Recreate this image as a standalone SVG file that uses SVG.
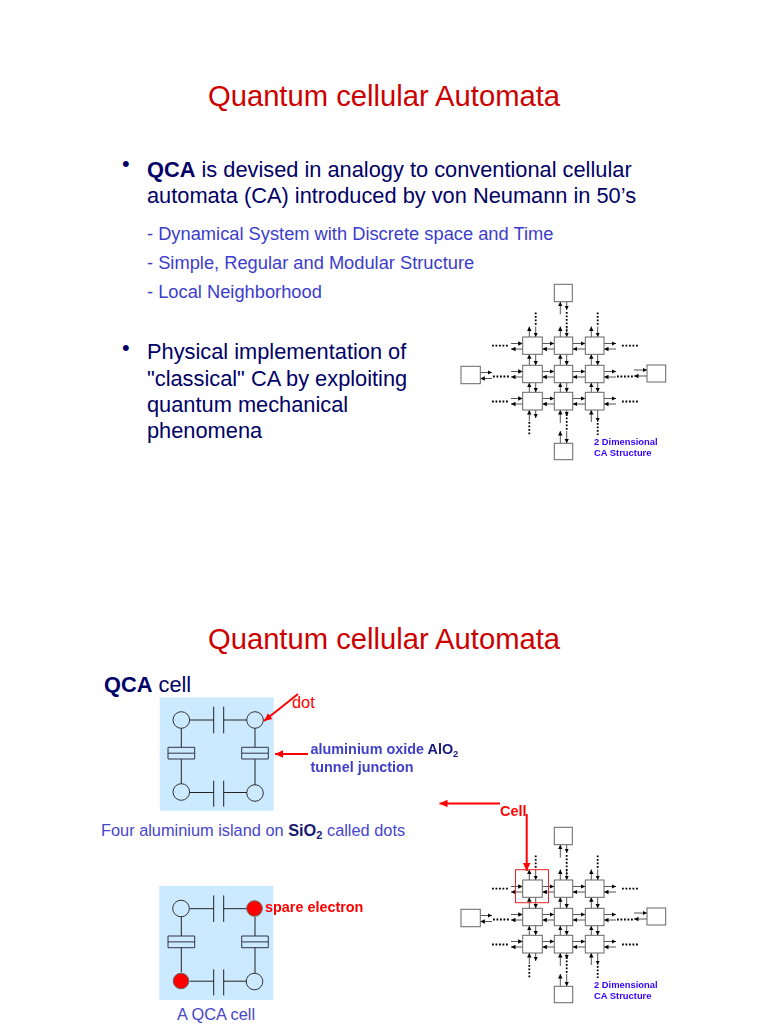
<svg xmlns="http://www.w3.org/2000/svg" xmlns:xlink="http://www.w3.org/1999/xlink" width="768" height="1024" viewBox="0 0 768 1024">
<style>
text{font-family:"Liberation Sans",Arial,sans-serif}
.title{font-size:29.2px;fill:#cc0000;text-anchor:middle}
.b{font-size:21.8px;fill:#000066}
.s{font-size:18.3px;fill:#3c3ccc}
.m{font-size:16.35px;fill:#4646cc}
.bd{font-weight:bold}
.lbl{font-size:14.4px;font-weight:bold;fill:#4040c8}
.ca{font-size:9.4px;font-weight:bold;fill:#3300ff}
.box{fill:#fff;stroke:#666;stroke-width:1}
.ar{fill:none;stroke:#444;stroke-width:.9}
.hd{fill:#000}
.dots{fill:none;stroke:#000;stroke-width:1.8;stroke-dasharray:1.8 1.7}
.w{fill:none;stroke:#222;stroke-width:1}
.dot{fill:none;stroke:#333;stroke-width:1}
.cellbg{fill:#cceaff}
.j{fill:none;stroke:#334;stroke-width:1}
.el{fill:#ff0000;stroke:#666;stroke-width:1}
.ra{fill:none;stroke:#ff0000;stroke-width:2;marker-end:url(#rh)}
.sf{filter:url(#soft)}
</style>
<defs>
<marker id="a" markerUnits="userSpaceOnUse" markerWidth="6" markerHeight="5" refX="4.500" refY="2.500" orient="auto"><path d="M0 .3L4.500 2.500L0 4.700Z" fill="#000"/></marker>
<marker id="rh" markerUnits="userSpaceOnUse" markerWidth="9" markerHeight="9" refX="8" refY="4.500" orient="auto"><path d="M0 .8L8 4.500L0 8.200Z" fill="#ff0000"/></marker>
<filter id="soft" x="-5%" y="-5%" width="110%" height="110%"><feGaussianBlur stdDeviation="0.35"/></filter>
<g id="caGrid" filter="url(#soft)">
<g class="ar" marker-end="url(#a)">
<path d="M511 343.500H522.700"/><path d="M522.700 349H511"/><path d="M542.300 343.500H554.300"/><path d="M554.300 349H542.300"/><path d="M572.700 343.500H585.300"/><path d="M585.300 349H572.700"/><path d="M604 343.500H616"/><path d="M616 349H604"/>
<path d="M511 371.500H522.700"/><path d="M522.700 377H511"/><path d="M542.300 371.500H554.300"/><path d="M554.300 377H542.300"/><path d="M572.700 371.500H585.300"/><path d="M585.300 377H572.700"/><path d="M604 371.500H616"/><path d="M616 377H604"/>
<path d="M511 398.500H522.700"/><path d="M522.700 404H511"/><path d="M542.300 398.500H554.300"/><path d="M554.300 404H542.300"/><path d="M572.700 398.500H585.300"/><path d="M585.300 404H572.700"/><path d="M604 398.500H616"/><path d="M616 404H604"/>
<path d="M529.300 337V326.500"/><path d="M535.700 326.500V337"/><path d="M560.300 337V326.500"/><path d="M566.700 326.500V337"/><path d="M591.300 337V326.500"/><path d="M597.700 326.500V337"/>
<path d="M529.300 365.300V354.300"/><path d="M535.700 354.300V365.300"/><path d="M560.300 365.300V354.300"/><path d="M566.700 354.300V365.300"/><path d="M591.300 365.300V354.300"/><path d="M597.700 354.300V365.300"/>
<path d="M529.300 392.300V382.700"/><path d="M535.700 382.700V392.300"/><path d="M560.300 392.300V382.700"/><path d="M566.700 382.700V392.300"/><path d="M591.300 392.300V382.700"/><path d="M597.700 382.700V392.300"/>
<path d="M529.300 421V410"/><path d="M535.700 410V418"/><path d="M560.300 423V410"/><path d="M566.700 410V416"/><path d="M591.300 422V410"/><path d="M597.700 410V422"/>
<path d="M560.300 314.500V301.700"/><path d="M566.700 301.700V310"/><path d="M560.300 443.300V431"/><path d="M566.700 431V443.300"/>
<path d="M480.300 372.500H492"/><path d="M492 378.500H480.300"/><path d="M634 370H647"/><path d="M647 376H634"/>
</g>
<path class="dots" d="M492 345.700H509M622 345.700H639M492 401.500H509M622 401.500H639M493 376.500H509M617 376.500H634"/>
<path class="dots" d="M535.700 312.500V325M566.700 312V333M597.700 312.500V325M529.300 422V435M566.700 414V431M597.700 423V435"/>
<rect class="box" x="522.700" y="337" width="19.600" height="17.300"/><rect class="box" x="554.300" y="337" width="18.400" height="17.300"/><rect class="box" x="585.300" y="337" width="18.700" height="17.300"/>
<rect class="box" x="522.700" y="365.300" width="19.600" height="17.400"/><rect class="box" x="554.300" y="365.300" width="18.400" height="17.400"/><rect class="box" x="585.300" y="365.300" width="18.700" height="17.400"/>
<rect class="box" x="522.700" y="392.300" width="19.600" height="17.700"/><rect class="box" x="554.300" y="392.300" width="18.400" height="17.700"/><rect class="box" x="585.300" y="392.300" width="18.700" height="17.700"/>
<rect class="box" x="554.300" y="284.300" width="18" height="17.400"/><rect class="box" x="461" y="366.300" width="19.300" height="17.400"/><rect class="box" x="647" y="365" width="18.700" height="17"/><rect class="box" x="554.300" y="443.300" width="18.400" height="16.400"/>
</g>
<g id="cell" filter="url(#soft)">
<path class="w" d="M189.500 720H213.700M213.700 706.700V733.300M223.700 706.700V733.300M223.700 720H247M181.300 728.300V747.300M181.300 759V783.700M255 728.300V747.300M255 759V785M189.500 792.500H213.700M213.700 780.700V806.700M223.700 780.700V806.700M223.700 792.500H247"/>
<path class="j" d="M168 747.300H194.700V759H168ZM168 753.200H194.700M241.700 747.300H268.300V759H241.700ZM241.700 753.200H268.300"/>
</g>
</defs>
<text class="title" x="384" y="106">Quantum cellular Automata</text>
<text class="b" x="122" y="171">•</text>
<text class="b" x="147" y="177"><tspan class="bd">QCA</tspan> is devised in analogy to conventional cellular</text>
<text class="b" x="147" y="203">automata (CA) introduced by von Neumann in 50’s</text>
<text class="s" x="147" y="240">- Dynamical System with Discrete space and Time</text>
<text class="s" x="147" y="269">- Simple, Regular and Modular Structure</text>
<text class="s" x="147" y="298">- Local Neighborhood</text>
<text class="b" x="122" y="355">•</text>
<text class="b" x="147" y="359">Physical implementation of</text>
<text class="b" x="147" y="386">"classical" CA by exploiting</text>
<text class="b" x="147" y="412">quantum mechanical</text>
<text class="b" x="147" y="438">phenomena</text>
<g id="ca-structure-1"><use href="#caGrid" xlink:href="#caGrid"/>
<text class="ca sf" x="594" y="445">2 Dimensional</text><text class="ca sf" x="594" y="456">CA Structure</text></g>
<text class="title" x="384" y="649">Quantum cellular Automata</text>
<text class="b" x="104" y="692"><tspan class="bd">QCA</tspan> cell</text>
<g id="qca-cell-1">
<rect class="cellbg" x="159.700" y="697.300" width="114" height="113.400"/>
<use href="#cell" xlink:href="#cell"/>
<circle class="dot" cx="181.300" cy="720" r="8.300"/><circle class="dot" cx="255" cy="720" r="8.300"/><circle class="dot" cx="181.300" cy="792" r="8.300"/><circle class="dot" cx="255" cy="793" r="8.300"/>
</g>
<g id="qca-cell-2">
<rect class="cellbg" x="159.300" y="886" width="114" height="114"/>
<use href="#cell" xlink:href="#cell" y="188.700"/>
<circle class="dot" cx="181" cy="908.500" r="8.300"/><circle class="el" cx="254.500" cy="908.500" r="7.800"/><circle class="el" cx="181" cy="981" r="7.800"/><circle class="dot" cx="254.500" cy="981.500" r="8.300"/>
</g>
<text class="m" style="fill:#ff0000" x="292" y="708">dot</text>
<text class="lbl sf" x="310.500" y="754">aluminium oxide <tspan style="fill:#1a1a80">AlO<tspan font-size="9.500" dy="3">2</tspan></tspan></text>
<text class="lbl sf" x="310.500" y="772">tunnel junction</text>
<text class="m" x="101" y="836">Four aluminium island on <tspan class="bd" style="fill:#1a1a70">SiO<tspan font-size="11" dy="3">2</tspan></tspan><tspan dy="-3"> called dots</tspan></text>
<text class="lbl sf" style="fill:#ff0000" x="265" y="912">spare electron</text>
<text class="m" x="177" y="1020">A QCA cell</text>
<g id="ca-structure-2"><use href="#caGrid" xlink:href="#caGrid" y="543"/>
<text class="ca sf" x="594" y="988">2 Dimensional</text><text class="ca sf" x="594" y="999">CA Structure</text></g>
<text class="lbl sf" style="fill:#ff0000" x="500" y="816">Cell</text>
<g id="connectors">
<path class="ra" d="M298 694L264 721"/>
<path class="ra" d="M308 754H275"/>
<path class="ra" d="M500 803.500H439.500"/>
<path class="ra" d="M526.700 814V871"/>
<rect x="515.500" y="869.700" width="33" height="33" fill="none" stroke="#ee2222" stroke-width="1"/>
</g>
</svg>
